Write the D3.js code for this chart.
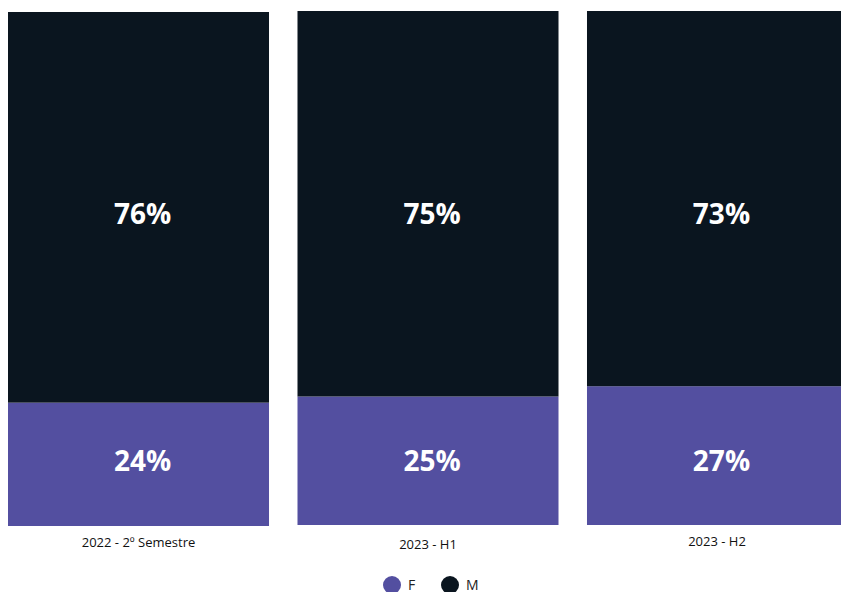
<!DOCTYPE html>
<meta charset="utf-8">
<head>
	<style>
		body { margin: 0; background: #fff; }
		text { font-family: "Open Sans", "Noto Sans", sans-serif; }
		.val { fill: #fff; font-weight: 700; font-size: 28px; }
		.cat { fill: #111; font-size: 13px; }
		.leg { fill: #222; font-size: 14px; }
	</style>
	<script src="https://cdn.jsdelivr.net/npm/d3@7"></script>
</head>
<body></body>
<script>

	var periods = ["2022 - 2º Semestre", "2023 - H1", "2023 - H2"],
			female = [24, 25, 27],
			male = [76, 75, 73],
			genders = ["F", "M"],
			colors = ["#534fa0", "#0a151f"];

	var width = 841,
			height = 592;

	// each period is its own little panel, they don't line up exactly
	var panelShift = [1, 0, 0],
			labelY = [547, 549, 546];

	var svg = d3.select("body").append("svg")
		.attr("width", width)
		.attr("height", height);

	// last bar runs off the right edge, as in the original
	var x = d3.scaleBand()
		.domain(periods)
		.range([8, 848])
		.paddingInner(0.0984);

	var y = d3.scaleLinear()
		.domain([0, 100])
		.range([525, 11]);

	var color = d3.scaleOrdinal().domain(genders).range(colors);

	var rows = periods.map(function(p, i) {
		return {period: p, F: female[i], M: male[i], shift: panelShift[i], ly: labelY[i]};
	});

	var stack = d3.stack().keys(genders)(rows);

	var mid = function(p) { return x(p) + x.bandwidth() / 2; };

	svg.selectAll("g.layer")
		.data(stack)
	  .enter().append("g")
		.attr("class", "layer")
		.attr("fill", function(d) { return color(d.key); })
	  .selectAll("rect")
		.data(function(d) { return d; })
	  .enter().append("rect")
		.attr("x", function(d) { return x(d.data.period); })
		.attr("width", x.bandwidth())
		.attr("y", function(d) { return y(d[1]) + d.data.shift; })
		.attr("height", function(d) { return y(d[0]) - y(d[1]); });

	// labels sit in two fixed rows, like the original
	var labelRow = {F: 12.5, M: 60.5};

	stack.forEach(function(layer) {
		svg.append("g").selectAll("text")
			.data(layer)
		  .enter().append("text")
			.attr("class", "val")
			.attr("text-anchor", "middle")
			.attr("dy", "0.35em")
			.attr("x", function(d) { return mid(d.data.period) + 4; })
			.attr("y", function(d) { return y(labelRow[layer.key]); })
			.text(function(d) { return (d[1] - d[0]) + "%"; });
	});

	svg.append("g").selectAll("text")
		.data(rows)
	  .enter().append("text")
		.attr("class", "cat")
		.attr("text-anchor", "middle")
		.attr("x", function(d) { return Math.min(mid(d.period), 717); })
		.attr("y", function(d) { return d.ly; })
		.text(function(d) { return d.period; });

	var legend = svg.append("g")
		.attr("transform", "translate(392,585)");

	var item = legend.selectAll("g")
		.data(genders)
	  .enter().append("g")
		.attr("transform", function(d, i) { return "translate(" + i * 58 + ",0)"; });

	item.append("circle")
		.attr("r", 9)
		.attr("fill", function(d) { return color(d); });

	item.append("text")
		.attr("class", "leg")
		.attr("x", 16)
		.attr("y", 5)
		.text(function(d) { return d; });

</script>
